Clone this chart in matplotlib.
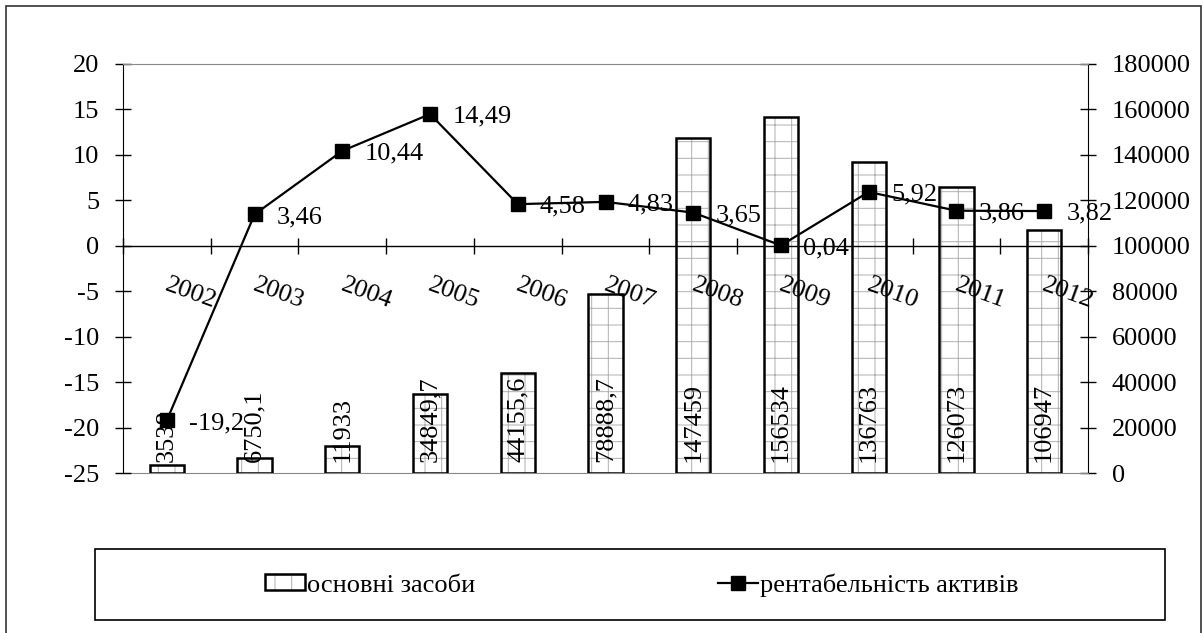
import numpy as np
import matplotlib.pyplot as plt
from matplotlib.patches import Rectangle, Patch
from matplotlib.lines import Line2D

plt.rcParams['font.family'] = ['Liberation Serif', 'DejaVu Serif']
plt.rcParams['axes.unicode_minus'] = False
plt.rcParams['hatch.linewidth'] = 0.7

# дані з рисунку
roky = ['2002', '2003', '2004', '2005', '2006', '2007', '2008', '2009', '2010', '2011', '2012']
zasoby = [3538, 6750.1, 11933, 34849.7, 44155.6, 78888.7, 147459, 156534, 136763, 126073, 106947]
zasoby_txt = ['3538', '6750,1', '11933', '34849,7', '44155,6', '78888,7',
              '147459', '156534', '136763', '126073', '106947']
rent = [-19.2, 3.46, 10.44, 14.49, 4.58, 4.83, 3.65, 0.04, 5.92, 3.86, 3.82]
rent_txt = ['-19,2', '3,46', '10,44', '14,49', '4,58', '4,83', '3,65', '0,04', '5,92', '3,86', '3,82']
left_ticks = [-25, -20, -15, -10, -5, 0, 5, 10, 15, 20]
right_ticks = [0, 20000, 40000, 60000, 80000, 100000, 120000, 140000, 160000, 180000]

fs = 19
W, H = 1203, 633
fig = plt.figure(figsize=(W / 100, H / 100), dpi=100)
ax = fig.add_axes([123 / W, 1 - 473 / H, (1088 - 123) / W, (473 - 64) / H])
ax2 = ax.twinx()
ax.set_zorder(ax2.get_zorder() + 1)
ax.patch.set_visible(False)

x = np.arange(len(roky))

# стовпці: спершу сірий візерунок, потім чорна рамка
ax2.bar(x, zasoby, width=0.39, color='white', edgecolor='#b0b0b0', hatch='+', linewidth=0, zorder=2)
ax2.bar(x, zasoby, width=0.39, fill=False, edgecolor='black', linewidth=1.8, zorder=3)
for i in range(len(x)):
    ax2.annotate(zasoby_txt[i], (x[i], 0), xytext=(0, 8), textcoords='offset points',
                 rotation=90, ha='center', va='bottom', fontsize=fs, zorder=4)

ax2.set_ylim(0, 180000)
ax2.set_yticks(right_ticks)
ax2.tick_params(axis='y', direction='inout', length=11.5, pad=11.5, labelsize=fs, width=1)
ax2.spines['right'].set_color('black')
ax2.spines['bottom'].set_color('#888888')
ax2.spines['top'].set_visible(False)
ax2.spines['left'].set_visible(False)

# лінія рентабельності
ax.plot(x, rent, color='black', linewidth=1.6, marker='s', markersize=10, zorder=5)
for i in range(len(x)):
    ax.annotate(rent_txt[i], (x[i], rent[i]), xytext=(16, -2), textcoords='offset points',
                ha='left', va='center', fontsize=fs, zorder=6)

ax.set_xlim(-0.5, len(roky) - 0.5)
ax.set_ylim(-25, 20)
ax.set_yticks(left_ticks)
ax.tick_params(axis='y', direction='inout', length=11.5, pad=11.5, labelsize=fs, width=1)

# вісь категорій проходить через 0
ax.spines['bottom'].set_position(('data', 0))
ax.spines['bottom'].set_linewidth(1)
ax.set_xticks(np.arange(-0.5, len(roky)))
ax.set_xticklabels([])
ax.tick_params(axis='x', direction='inout', length=11.5, width=1)
ax.spines['top'].set_color('#888888')
ax.spines['right'].set_visible(False)
for i in range(len(x)):
    ax.annotate(roky[i], (x[i], 0), xytext=(-2, -32), textcoords='offset points',
                rotation=-20, rotation_mode='anchor', ha='left', va='baseline',
                fontsize=fs, zorder=6)

# легенда (значок стовпця = сірий візерунок + чорна рамка)
h1a = Patch(facecolor='white', edgecolor='#b0b0b0', hatch='+', linewidth=0)
h1b = Patch(fill=False, edgecolor='black', linewidth=1.8)
h2 = Line2D([], [], color='black', linewidth=1.6, marker='s', markersize=10)
fig.legend([(h1a, h1b), h2], ['основні засоби', 'рентабельність активів'], loc='center',
           bbox_to_anchor=(642 / W, 1 - 585 / H), ncol=2, frameon=False, fontsize=fs,
           columnspacing=9.2, handlelength=1.5, handleheight=0.55, handletextpad=0.1)
fig.add_artist(Rectangle((95 / W, 1 - 620 / H), 1070 / W, 71 / H, transform=fig.transFigure,
                         fill=False, edgecolor='black', linewidth=1.2))

# зовнішня рамка (без нижньої лінії)
fig.add_artist(Rectangle((6 / W, -0.1), 1195 / W, 1.1 - 6 / H, transform=fig.transFigure,
                         fill=False, edgecolor='#333333', linewidth=1.2))

plt.savefig('out.png', dpi=100)
